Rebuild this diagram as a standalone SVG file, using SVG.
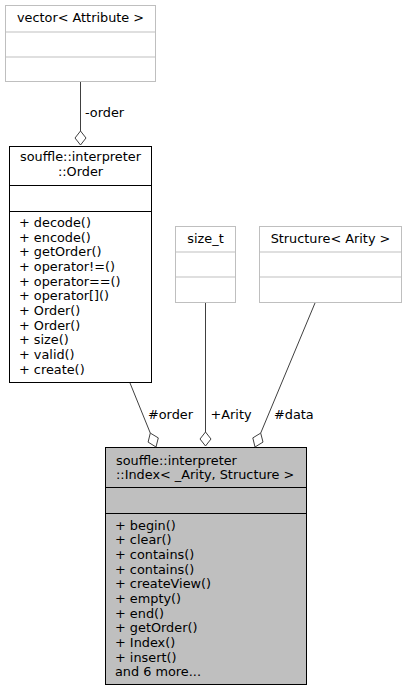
<svg xmlns="http://www.w3.org/2000/svg" width="408" height="691" viewBox="0 0 408 691">
<style>
text{font-family:"DejaVu Sans",sans-serif;font-size:12.85px;fill:#000}
.c{text-anchor:middle}
.gray{fill:#fff;stroke:#bfbfbf;stroke-width:1}
.blk{fill:#fff;stroke:#000;stroke-width:1}
.main{fill:#bfbfbf;stroke:#000;stroke-width:1}
.dg{stroke:#bfbfbf;stroke-width:1}
.db{stroke:#000;stroke-width:1}
.edge line{stroke:#404040;stroke-width:1}
.edge polygon{fill:#fff;stroke:#404040;stroke-width:1}
</style>
<rect width="408" height="691" fill="#fff"/>
<g id="node_vector">
<rect class="gray" x="5.5" y="5.5" width="150" height="76"/>
<line class="dg" x1="5.5" y1="32" x2="155.5" y2="32"/>
<line class="dg" x1="5.5" y1="57" x2="155.5" y2="57"/>
<text class="c" x="80.5" y="22">vector&lt; Attribute &gt;</text>
</g>
<g id="node_order">
<rect class="blk" x="9.5" y="146.5" width="142" height="236"/>
<line class="db" x1="9.5" y1="185.5" x2="151.5" y2="185.5"/>
<line class="db" x1="9.5" y1="211.5" x2="151.5" y2="211.5"/>
<text class="c" x="80.5" y="161">souffle::interpreter</text>
<text class="c" x="80.5" y="176">::Order</text>
<text x="19" y="227">+ decode()</text>
<text x="19" y="241.7">+ encode()</text>
<text x="19" y="256.3">+ getOrder()</text>
<text x="19" y="271">+ operator!=()</text>
<text x="19" y="285.7">+ operator==()</text>
<text x="19" y="300.3">+ operator[]()</text>
<text x="19" y="315">+ Order()</text>
<text x="19" y="329.7">+ Order()</text>
<text x="19" y="344.3">+ size()</text>
<text x="19" y="359">+ valid()</text>
<text x="19" y="373.7">+ create()</text>
</g>
<g id="node_size_t">
<rect class="gray" x="175.5" y="226.5" width="60" height="76"/>
<line class="dg" x1="175.5" y1="252" x2="235.5" y2="252"/>
<line class="dg" x1="175.5" y1="277" x2="235.5" y2="277"/>
<text class="c" x="205.5" y="243">size_t</text>
</g>
<g id="node_structure">
<rect class="gray" x="259.5" y="226.5" width="142" height="76"/>
<line class="dg" x1="259.5" y1="252" x2="401.5" y2="252"/>
<line class="dg" x1="259.5" y1="277" x2="401.5" y2="277"/>
<text class="c" x="330.5" y="243">Structure&lt; Arity &gt;</text>
</g>
<g id="node_index">
<rect class="main" x="105.5" y="447.5" width="201" height="237"/>
<line class="db" x1="105.5" y1="487.5" x2="306.5" y2="487.5"/>
<line class="db" x1="105.5" y1="513.5" x2="306.5" y2="513.5"/>
<text x="116" y="465">souffle::interpreter</text>
<text x="116" y="479">::Index&lt; _Arity, Structure &gt;</text>
<text x="115" y="529.5">+ begin()</text>
<text x="115" y="544.2">+ clear()</text>
<text x="115" y="558.8">+ contains()</text>
<text x="115" y="573.5">+ contains()</text>
<text x="115" y="588.2">+ createView()</text>
<text x="115" y="602.8">+ empty()</text>
<text x="115" y="617.5">+ end()</text>
<text x="115" y="632.2">+ getOrder()</text>
<text x="115" y="646.8">+ Index()</text>
<text x="115" y="661.5">+ insert()</text>
<text x="115" y="676.2">and 6 more...</text>
</g>
<g id="edges" class="edge">
<line x1="80.5" y1="82" x2="80.5" y2="131"/>
<polygon points="80.5,131 86,138 80.5,145 75,138"/>
<text x="85" y="117">-order</text>
<line x1="130" y1="383" x2="150.3" y2="433.1"/>
<polygon points="150.3,433.1 158.3,437.9 156,447 148.1,442.1"/>
<text x="148" y="419">#order</text>
<line x1="205.5" y1="303" x2="205.5" y2="432"/>
<polygon points="205.5,432 211,439 205.5,446 200,439"/>
<text x="210.5" y="419">+Arity</text>
<line x1="315" y1="303" x2="260.7" y2="433.1"/>
<polygon points="260.7,433.1 263,442.1 255,447 252.8,437.9"/>
<text x="274" y="419">#data</text>
</g>
</svg>
